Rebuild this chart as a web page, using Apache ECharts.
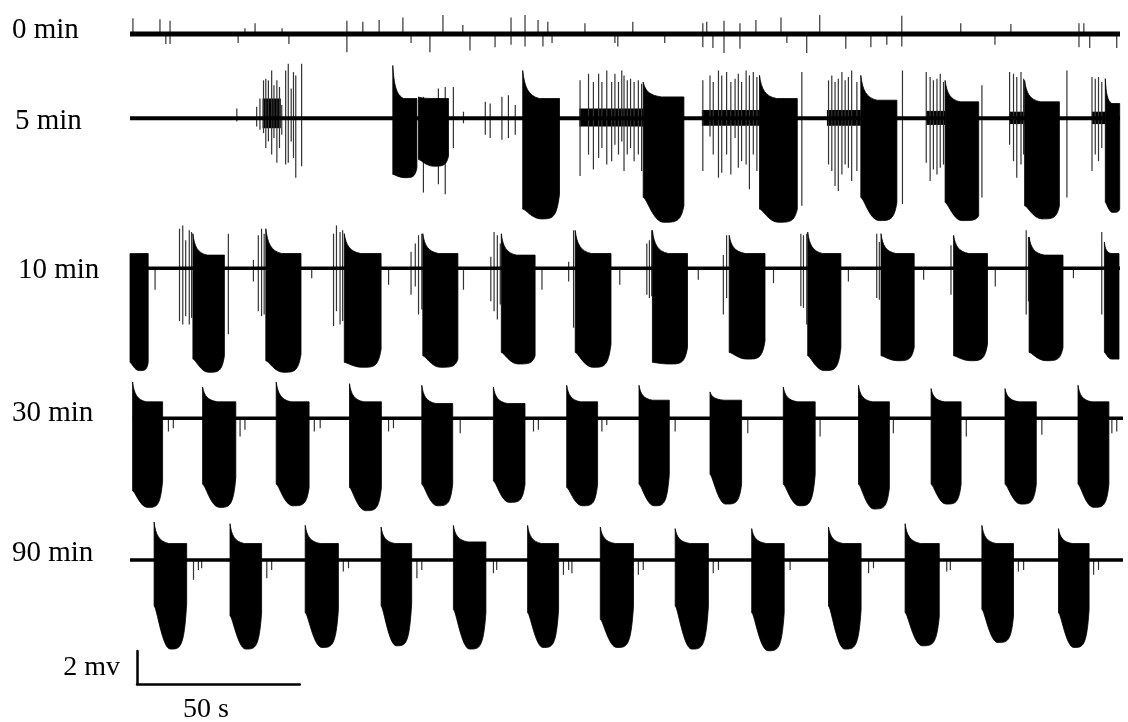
<!DOCTYPE html>
<html><head><meta charset="utf-8">
<script src="https://cdn.jsdelivr.net/npm/echarts@6/dist/echarts.min.js"></script>
<style>html,body{margin:0;padding:0;background:#fff}#c{width:1128px;height:722px}</style>
</head><body><div id="c"></div>
<script>
// ---------------- DATA (time in s, amplitude in mV) ----------------
const traceLabels = ['0 min', '5 min', '10 min', '30 min', '90 min'];
const traceSpans = [[0, 304], [0, 304], [0, 304], [0.8, 305], [0, 305]];
const scaleBarTime = 50;   // s
const scaleBarVolt = 2;    // mV
const scaleBarLabels = ['50 s', '2 mv'];

// spikes: [t, top, bottom]
const spikes0min = [
  [0.9,0.95,0],[9.2,0.9,0],[11.0,0,-0.6],[12.3,0.8,-0.6],[33.2,0,-0.55],[35.3,0.35,0],[38.4,0.65,0],
  [46.7,0.35,0],[48.8,0,-0.6],[66.6,0.8,-1.1],[71.5,0.75,0],[76.5,0.85,0],[83.8,1.0,0],[86.3,0,-0.55],
  [92.1,0,-1.1],[96.1,1.15,0],[102.2,0.55,0],[104.4,0,-1.0],[112.1,0,-0.8],[117.0,1.0,-0.65],
  [121.3,1.15,-0.75],[125.3,0.85,0],[126.8,0,-0.75],[128.3,0.75,0],[129.6,0,-0.55],[139.7,0.65,0],
  [148.9,0,-0.55],[149.8,0,-0.75],[154.4,0.75,0],[164.2,0,-0.55],[175.9,0.65,-0.8],[177.1,0.75,0],
  [179.0,0,-0.85],[182.4,0.8,-1.15],[187.3,0.65,-0.9],[192.2,0.85,0],[199.9,1.0,0],[201.7,0,-0.55],
  [207.8,0,-1.15],[211.8,1.15,0],[219.8,0,-0.9],[227.5,0,-0.8],[232.4,0,-0.65],[237.0,1.1,-0.75],
  [255.1,0.65,0],[265.6,0,-0.65],[270.5,0.6,0],[291.4,0.65,-0.8],[292.9,0.65,0],[294.7,0,-0.85],[303.0,0,-0.85]
];
const spikes5min = [
  [32.8,0.6,-0.2],
  [38.9,0.7,-0.5],[39.9,1.2,-0.7],[41.0,2.3,-0.9],[41.7,2.4,-1.8],[42.5,2.3,-1.4],[43.5,2.9,-2.2],[44.2,2.0,-1.2],
  [45.1,2.3,-2.7],[45.9,1.9,-1.8],[46.6,0.8,-1.0],[47.8,2.9,-2.8],[48.6,3.3,-2.7],[49.5,1.8,-1.4],[50.2,2.8,-2.4],
  [50.9,2.6,-3.6],[52.7,3.3,-2.9],
  [90.1,1.3,-4.5],[94.7,1.8,-4.0],[96.8,1.9,-4.6],[99.3,1.9,-1.8],
  [102.4,0.4,-0.3],[109.1,1.0,-1.0],[110.6,0.9,-1.2],[114.2,1.3,-1.3],[116.2,1.4,-1.2],[118.3,0.8,-1.0],
  [138.2,2.3,-3.5],[140.8,2.7,-2.2],[142.3,2.2,-3.1],[143.9,2.7,-2.4],[144.9,2.2,-1.8],[146.4,2.9,-2.8],
  [147.9,2.2,-2.6],[148.9,2.7,-1.6],[150.0,2.2,-2.2],[151.0,2.9,-1.4],[151.7,2.6,-3.2],[152.7,2.3,-2.2],
  [153.7,2.4,-1.8],[154.8,2.2,-2.6],[156.1,2.3,-2.2],[157.1,2.1,-3.2],
  [175.9,2.3,-3.2],[178.1,2.6,-1.1],[179.1,2.2,-2.2],[180.7,2.9,-3.6],[181.7,2.6,-3.3],[183.2,2.8,-2.2],
  [184.5,2.2,-3.4],[185.8,2.4,-1.2],[186.8,2.7,-3.0],[187.8,2.2,-2.6],[189.2,2.9,-2.8],[190.2,2.6,-4.3],
  [191.4,2.8,-2.2],[192.5,2.5,-3.2],
  [206.3,2.8,-5.3],
  [214.5,2.3,-2.8],[215.5,2.6,-3.2],[216.5,2.2,-4.1],[217.5,2.4,-4.4],[218.6,2.8,-3.4],[219.6,2.3,-2.8],
  [220.6,2.5,-3.0],[221.6,2.9,-3.8],[223.2,2.2,-3.2],
  [237.2,2.9,-5.2],
  [244.5,2.8,-2.7],[245.7,2.5,-3.8],[246.7,2.3,-3.1],[247.8,2.4,-3.4],[248.8,2.7,-3.0],[249.8,2.2,-2.8],
  [261.6,2.0,-4.8],
  [270.1,2.8,-1.6],[271.3,2.7,-2.6],[272.3,2.5,-3.6],[273.6,2.8,-2.8],[274.4,2.4,-2.2],
  [287.7,2.9,-4.8],
  [295.4,2.5,-3.2],[296.4,2.4,-2.2],[297.4,2.5,-2.6],[298.4,2.2,-1.8]
];
const spikes10min = [
  [7.7,0,-1.3],[15.2,2.4,-3.2],[16.2,2.6,-3.4],[17.1,1.7,-2.9],[18.2,2.3,-3.4],[18.9,2.2,-3.0],[30.2,2.1,-4.0],
  [37.9,0.5,-0.8],[39.4,2.0,-2.6],[40.4,2.4,-2.9],[41.2,2.1,-2.8],
  [55.8,0,-0.6],[62.5,2.1,-3.5],[63.4,2.6,-2.6],[64.5,2.2,-3.4],[65.3,2.3,-3.2],
  [79.4,0,-1.0],[86.3,1.0,-1.6],[87.6,1.5,-1.1],[88.6,2.0,-2.8],[89.6,2.1,-2.5],
  [102.4,0,-1.3],[110.8,0.7,-2.0],[111.8,2.2,-2.6],[112.8,2.0,-3.1],[113.7,1.5,-2.2],
  [126.5,0,-1.3],[134.7,0.4,-0.8],[136.2,2.3,-3.6],
  [150.4,0,-1.0],[158.7,1.5,-1.6],[159.5,1.7,-1.8],[160.2,2.3,-1.7],
  [174.5,0,-0.7],[182.2,0.8,-2.8],[183.2,2.0,-1.8],
  [197.6,0,-0.9],[206.0,2.1,-2.3],[206.8,2.0,-2.4],[207.8,2.1,-3.4],
  [220.6,0,-0.8],[229.3,2.1,-1.8],[230.1,1.6,-1.9],
  [243.7,0,-0.7],[252.1,1.4,-1.6],
  [265.7,0,-1.1],[275.2,2.3,-2.8],[275.9,1.9,-2.0],
  [289.7,0,-0.6],[298.4,2.2,-2.8]
];
const spikes30min = [
  [11.8,0,-0.8],[13.3,0,-0.6],[33.8,0,-1.1],[35.3,0,-0.7],[56.6,0,-0.8],[58.4,0,-0.6],[79.4,0,-0.8],
  [80.9,0,-0.6],[101.4,0,-0.9],[123.9,0,-0.8],[125.4,0,-0.7],[144.9,0,-0.8],[146.4,0,-0.4],[167.4,0,-0.8],
  [189.7,0,-0.9],[211.9,0,-1.1],[234.4,0,-0.9],[256.8,0,-1.1],[280.0,0,-1.0],[301.5,0,-0.9],[303.0,0,-0.8]
];
const spikes90min = [
  [19.5,0,-1.2],[21.0,0,-0.6],[22.0,0,-0.5],[42.0,0,-1.1],[43.5,0,-0.6],[65.5,0,-0.7],[67.1,0,-0.5],
  [88.1,0,-1.1],[89.6,0,-0.6],[111.6,0,-0.8],[112.6,0,-0.6],[133.1,0,-0.9],[134.7,0,-0.6],[135.7,0,-0.8],
  [156.1,0,-0.9],[157.6,0,-0.6],[179.1,0,-0.8],[180.7,0,-0.6],[202.7,0,-0.6],[226.8,0,-0.8],[228.3,0,-0.5],
  [250.8,0,-0.7],[251.9,0,-0.6],[272.8,0,-0.7],[274.4,0,-0.6],[295.9,0,-0.9],[297.4,0,-0.6]
];

// dense spiking bands: [t0, t1, top, bottom]
const dense5min = [
  [40.7,46.3,1.2,-0.6],[138,157.6,0.6,-0.5],[175.6,193.3,0.5,-0.45],[214,224.4,0.5,-0.45],
  [244.5,250.3,0.45,-0.4],[270,274.7,0.4,-0.35],[295.4,299.5,0.4,-0.35]
];

// bursts: [onset, offset, peak, plateau, bottomAtOnset, bottomDeepest, bottomAtOffset]
const bursts0min = [];
const bursts5min = [
  [80.7,88.1,3.2,1.2,-3.4,-3.6,-3.0],[88.6,97.8,1.3,1.2,-2.5,-2.9,-2.3],[120.6,131.9,2.9,1.2,-5.5,-6.1,-4.6],
  [157.6,170.1,2.2,1.3,-4.8,-6.3,-5.3],[193.3,204.9,2.6,1.2,-5.5,-6.3,-5.5],[224.4,235.5,2.6,1.1,-4.8,-6.2,-5.1],
  [250.3,260.6,2.3,1.0,-5.1,-6.2,-5.9],[274.7,285.4,2.3,1.0,-5.3,-6.1,-5.3],[299.5,303.9,2.4,0.9,-5.1,-5.7,-5.5]
];
const bursts10min = [
  [0,5.6,0.9,0.9,-5.7,-6.2,-5.7],[19.3,29.0,2.1,0.8,-5.5,-6.3,-5.3],[41.7,52.5,2.4,0.9,-5.6,-6.3,-5.2],
  [65.8,77.1,2.1,0.9,-5.7,-6.0,-4.9],[89.9,100.7,2.1,0.9,-5.3,-6.0,-5.5],[114.0,124.4,2.1,0.8,-5.1,-5.8,-5.3],
  [136.7,147.7,2.3,0.9,-5.1,-6.0,-4.6],[160.4,171.2,2.3,0.9,-5.7,-5.8,-4.8],[184.0,195.0,2.0,0.9,-5.1,-5.5,-4.4],
  [208.1,218.3,2.2,0.9,-5.3,-6.2,-4.8],[230.6,240.8,2.1,0.9,-5.3,-5.6,-4.8],[252.9,263.3,2.0,0.9,-5.3,-5.6,-4.6],
  [276.1,286.5,1.9,0.8,-5.1,-5.6,-4.8],[299.2,303.7,1.6,0.9,-5.1,-5.5,-5.5]
];
const bursts30min = [
  [0.8,10.0,2.2,1.0,-4.4,-5.4,-3.8],[22.3,32.5,1.9,1.0,-4.0,-5.4,-3.6],[44.9,55.0,2.2,1.0,-4.0,-5.3,-4.2],
  [67.4,77.2,2.1,1.0,-4.2,-5.6,-4.2],[89.6,99.1,2.0,0.9,-4.0,-5.3,-4.0],[111.6,121.3,1.9,0.9,-3.8,-5.1,-4.0],
  [134.1,143.6,2.0,1.0,-4.2,-5.3,-4.0],[156.3,165.6,2.0,1.1,-4.0,-5.3,-3.4],[178.1,187.8,1.6,1.1,-3.4,-5.2,-4.0],
  [200.6,210.4,1.9,1.0,-4.0,-5.3,-3.4],[223.7,233.2,2.0,1.0,-4.0,-5.5,-4.2],[246.0,255.2,1.8,1.0,-4.0,-5.2,-4.0],
  [268.7,278.3,1.8,1.0,-4.0,-5.2,-4.0],[291.1,300.6,2.0,1.0,-4.0,-5.4,-4.0]
];
const bursts90min = [
  [7.4,17.4,2.3,1.0,-2.8,-5.4,-2.6],[30.7,40.4,2.2,1.0,-3.4,-5.4,-3.2],[53.8,64.0,2.1,1.0,-3.2,-5.3,-3.0],
  [77.1,86.5,2.0,1.0,-2.8,-5.2,-2.6],[99.3,109.3,2.1,1.1,-3.0,-5.4,-3.2],[122.1,131.6,2.1,1.0,-3.2,-5.3,-3.0],
  [144.4,154.6,2.0,1.0,-3.6,-5.3,-2.8],[167.4,177.6,1.9,1.0,-2.8,-5.4,-2.8],[190.9,200.9,1.9,1.0,-3.2,-5.5,-3.2],
  [214.5,224.5,2.0,1.0,-2.8,-5.4,-3.0],[238.0,248.5,2.2,1.0,-3.2,-5.2,-3.4],[261.6,271.3,2.1,1.0,-3.0,-5.0,-3.4],
  [285.1,294.5,1.9,1.0,-3.2,-5.3,-3.0]
];

const allSpikes = [spikes0min, spikes5min, spikes10min, spikes30min, spikes90min];
const allBursts = [bursts0min, bursts5min, bursts10min, bursts30min, bursts90min];
const allDense = [[], dense5min, [], [], []];

// ---------------- LAYOUT ----------------
const baselinesPx = [34, 118.3, 268.3, 418.3, 560];
const labelYPx = [30, 121, 270, 413, 553];
const labelXPx = [12, 15, 18, 12, 12];
const baseWidths = [5, 4, 3.5, 3.5, 3.5];
const pxPerMv = 16.5;
const gridLeft = 130, gridWidth = 990;
const yMin = -7, yMax = 2;
const xMax = 304;
const pxPerS = gridWidth / xMax;
const FONT = '"Liberation Serif", "Times New Roman", serif';

const grids = [], xAxes = [], yAxes = [], series = [];
traceLabels.forEach((lab, i) => {
  grids.push({ left: gridLeft, top: baselinesPx[i] - yMax * pxPerMv, width: gridWidth, height: (yMax - yMin) * pxPerMv, outerBoundsMode: 'none', containLabel: false });
  xAxes.push({ gridIndex: i, type: 'value', min: 0, max: xMax, show: false });
  yAxes.push({ gridIndex: i, type: 'value', min: yMin, max: yMax, show: false });

  series.push({
    type: 'line', xAxisIndex: i, yAxisIndex: i, silent: true, clip: false, symbol: 'none',
    data: [[traceSpans[i][0], 0], [traceSpans[i][1], 0]],
    lineStyle: { color: '#000', width: baseWidths[i] }
  });
  series.push({
    type: 'custom', xAxisIndex: i, yAxisIndex: i, silent: true, clip: false,
    data: allDense[i],
    renderItem: (p, api) => {
      const a = api.coord([api.value(0), api.value(2)]);
      const b = api.coord([api.value(1), api.value(3)]);
      return { type: 'rect', shape: { x: a[0], y: a[1], width: b[0] - a[0], height: b[1] - a[1] },
        style: { fill: '#000' } };
    }
  });
  series.push({
    type: 'custom', xAxisIndex: i, yAxisIndex: i, silent: true, clip: false,
    data: allSpikes[i],
    renderItem: (p, api) => {
      const a = api.coord([api.value(0), api.value(1)]);
      const b = api.coord([api.value(0), api.value(2)]);
      return { type: 'line', shape: { x1: a[0], y1: a[1], x2: b[0], y2: b[1] }, style: { stroke: '#333', lineWidth: 1.2 } };
    }
  });
  series.push({
    type: 'custom', xAxisIndex: i, yAxisIndex: i, silent: true, clip: false,
    data: allBursts[i],
    renderItem: (p, api) => {
      const t0 = api.value(0), t1 = api.value(1), pk = api.value(2), pl = api.value(3);
      const bl = api.value(4), bm = api.value(5), br = api.value(6);
      const d = t1 - t0;
      const P = (t, v) => { const c = api.coord([t, v]); return c[0].toFixed(1) + ' ' + c[1].toFixed(1); };
      const body = 'M' + P(t0, 0) + ' L' + P(t0, pk) +
        ' C' + P(t0 + 0.05 * d, pl + (pk - pl) * 0.4) + ' ' + P(t0 + 0.15 * d, pl + (pk - pl) * 0.1) + ' ' + P(t0 + 0.45 * d, pl) +
        ' L' + P(t1, pl) + ' L' + P(t1, br) +
        ' C' + P(t1 - 0.08 * d, bm) + ' ' + P(t1 - 0.2 * d, bm) + ' ' + P(t0 + 0.5 * d, bm) +
        ' C' + P(t0 + 0.25 * d, bm) + ' ' + P(t0 + 0.08 * d, bl) + ' ' + P(t0, bl) + ' Z';
      return { type: 'path', shape: { pathData: body }, style: { fill: '#000', stroke: '#000', lineWidth: 0.8 } };
    }
  });
});

// scale bar grid
const sbIndex = traceLabels.length;
grids.push({ left: 137, top: 651, width: scaleBarTime * pxPerS, height: scaleBarVolt * pxPerMv, outerBoundsMode: 'none', containLabel: false });
xAxes.push({
  gridIndex: sbIndex, type: 'value', min: 0, max: scaleBarTime, position: 'bottom',
  axisLine: { show: true, lineStyle: { color: '#000', width: 2.5 } }, axisTick: { show: false }, axisLabel: { show: false }, splitLine: { show: false },
  name: scaleBarLabels[0], nameLocation: 'middle', nameGap: 12,
  nameTextStyle: { color: '#000', fontSize: 28, fontFamily: FONT, padding: [0, 25, 0, 0] }
});
yAxes.push({
  gridIndex: sbIndex, type: 'value', min: 0, max: scaleBarVolt, position: 'left',
  axisLine: { show: true, lineStyle: { color: '#000', width: 2.5 } }, axisTick: { show: false }, axisLabel: { show: false }, splitLine: { show: false },
  name: scaleBarLabels[1], nameLocation: 'middle', nameRotate: 0, nameGap: 17,
  nameTextStyle: { color: '#000', fontSize: 28, fontFamily: FONT, align: 'right', verticalAlign: 'middle' }
});

const graphics = traceLabels.map((lab, i) => ({
  type: 'text', x: labelXPx[i], y: labelYPx[i],
  style: { text: lab, font: '29px ' + FONT, fill: '#000', align: 'left', verticalAlign: 'middle' }
}));

const chart = echarts.init(document.getElementById('c'), null, { renderer: 'canvas' });
chart.setOption({
  animation: false,
  backgroundColor: '#fff',
  grid: grids, xAxis: xAxes, yAxis: yAxes, series: series,
  graphic: graphics
});
</script>
</body></html>
